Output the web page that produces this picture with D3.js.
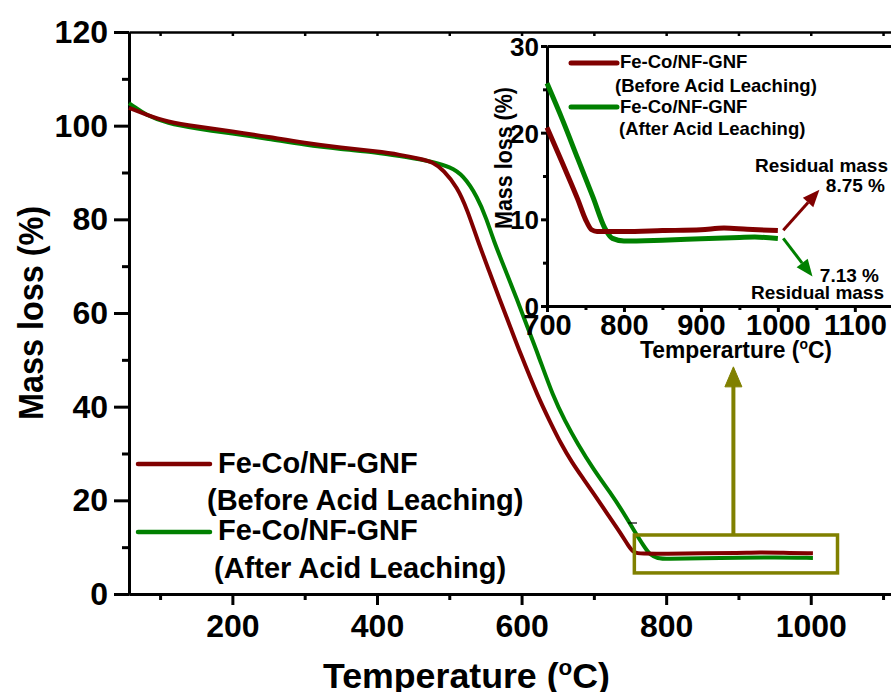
<!DOCTYPE html>
<html>
<head>
<meta charset="utf-8">
<script src="https://cdn.jsdelivr.net/npm/d3@7"></script>
<style>
  html, body { margin: 0; padding: 0; background: #fff; }
  svg { display: block; }
  text { font-family: "Liberation Sans", Arial, sans-serif; font-weight: bold; fill: #000; }
</style>
</head>
<body>
<svg id="chart" width="891" height="692"></svg>
<script>
// ---------- DATA ----------
// Main TGA curves (temperature °C, mass %)
const beforeTemp = [57, 80, 110, 150, 200, 250, 300, 350, 400, 432, 460, 478, 492, 511, 525, 539, 555, 570, 585, 598, 623, 640, 654, 670, 685, 699, 720, 737, 748, 755, 765, 800, 850, 900, 930, 960, 1003];
const beforeMass = [103.8, 102.4, 100.8, 99.8, 98.8, 97.6, 96.3, 95.3, 94.5, 93.8, 92.9, 92.2, 90.5, 86.9, 82.0, 75.6, 69.0, 62.8, 56.8, 51.5, 42.0, 36.6, 32.2, 28.0, 24.7, 21.6, 16.8, 13.0, 10.2, 8.8, 8.6, 8.6, 8.7, 8.75, 8.9, 8.8, 8.7];
const afterTemp = [57, 65, 80, 110, 150, 200, 250, 300, 350, 400, 432, 460, 478, 501, 519, 539, 552, 561, 578, 594, 608, 622, 644, 660, 677, 700, 723, 740, 755, 770, 778, 788, 800, 850, 900, 950, 1003];
const afterMass = [104.8, 104.0, 102.3, 100.5, 99.4, 98.3, 97.2, 95.9, 95.0, 94.3, 93.5, 92.8, 92.2, 91.2, 89.5, 84.8, 79.9, 75.6, 69.0, 62.8, 57.0, 51.5, 42.0, 37.0, 32.2, 26.5, 21.6, 17.6, 13.7, 10.0, 8.3, 7.6, 7.5, 7.6, 7.75, 7.85, 7.7];

// Inset (zoom 700-1000 °C)
const insetBeforeTemp = [700, 720, 740, 750, 758, 765, 800, 850, 900, 930, 960, 1000];
const insetBeforeMass = [20.6, 16.5, 12.3, 10.0, 8.8, 8.6, 8.6, 8.7, 8.8, 9.0, 8.85, 8.7];
const insetAfterTemp = [700, 720, 740, 760, 775, 785, 800, 850, 900, 950, 970, 1000];
const insetAfterMass = [25.7, 21.5, 17.0, 12.5, 9.0, 7.8, 7.5, 7.6, 7.75, 7.9, 7.95, 7.8];

// Ticks
const mainXMajor = [200, 400, 600, 800, 1000];
const mainXMinor = [100, 300, 500, 700, 900, 1100];
const mainYMajor = [0, 20, 40, 60, 80, 100, 120];
const mainYMinor = [10, 30, 50, 70, 90, 110];
const insetXMajor = [700, 800, 900, 1000, 1100];
const insetXMinor = [750, 850, 950, 1050];
const insetYMajor = [0, 10, 20, 30];
const insetYMinor = [5, 15, 25];

// Labels
const seriesNames = ["Fe-Co/NF-GNF", "Fe-Co/NF-GNF"];
const seriesSubs = ["(Before Acid Leaching)", "(After Acid Leaching)"];
const residualLabels = ["8.75 %", "7.13 %"];
// Zoom-box region (temperature range, mass range) and arrow tip mass
const zoomBoxT = [756, 1037];
const zoomBoxM = [4.5, 12.6];
const zoomArrowT = 893;
const zoomArrowTipM = 48.5;
// Residual arrows in inset data units: [T0, M0, T1, M1]
const residualArrows = [[1007, 8.75, 1054, 13.4], [1007, 7.8, 1045, 3.4]];

// ---------- STYLE ----------
const RED = "#800000";
const GREEN = "#008000";
const OLIVE = "#808000";
const fmt = d3.format("d");

const svg = d3.select("#chart");
svg.append("rect").attr("width", 891).attr("height", 692).attr("fill", "#fff");

// ---------- MAIN PLOT ----------
const x = d3.scaleLinear().domain([57, 1111]).range([129, 891]);
const y = d3.scaleLinear().domain([0, 120]).range([594, 32]);

function styleAxis(g, w) {
  g.selectAll("path.domain").attr("stroke", "#000").attr("stroke-width", w);
  g.selectAll(".tick line").attr("stroke", "#000").attr("stroke-width", w);
}

// top border with small inward ticks
const gTop = svg.append("g").attr("transform", `translate(0,${y(120)})`)
  .call(d3.axisTop(x).tickValues(mainXMajor.concat(mainXMinor)).tickSizeInner(-4).tickSizeOuter(0).tickFormat(""));
styleAxis(gTop, 2.5);

// minor ticks
const gXMinor = svg.append("g").attr("transform", `translate(0,${y(0)})`)
  .call(d3.axisBottom(x).tickValues(mainXMinor).tickSizeInner(6).tickSizeOuter(0).tickFormat(""));
styleAxis(gXMinor, 3);
const gYMinor = svg.append("g").attr("transform", `translate(${x(57)},0)`)
  .call(d3.axisLeft(y).tickValues(mainYMinor).tickSizeInner(7).tickSizeOuter(0).tickFormat(""));
styleAxis(gYMinor, 3);

const gX = svg.append("g").attr("transform", `translate(0,${y(0)})`)
  .call(d3.axisBottom(x).tickValues(mainXMajor).tickFormat(fmt).tickSizeInner(11).tickSizeOuter(0).tickPadding(10));
styleAxis(gX, 3);
gX.selectAll(".tick text").attr("font-size", 32).attr("font-family", "Liberation Sans, Arial")
  .attr("font-weight", "bold").attr("y", 43).attr("dy", 0).attr("fill", "#000");

const gY = svg.append("g").attr("transform", `translate(${x(57)},0)`)
  .call(d3.axisLeft(y).tickValues(mainYMajor).tickFormat(fmt).tickSizeInner(15).tickSizeOuter(0).tickPadding(6));
styleAxis(gY, 3);
gY.selectAll(".tick text").attr("font-size", 32).attr("font-family", "Liberation Sans, Arial")
  .attr("font-weight", "bold").attr("dy", "0.33em").attr("fill", "#000");

// axis titles
const xt = svg.append("text").attr("x", 323).attr("y", 688).attr("font-size", 35)
  .attr("textLength", 287).attr("lengthAdjust", "spacingAndGlyphs");
xt.append("tspan").text("Temperature (");
xt.append("tspan").attr("font-size", 22).attr("dy", -13).text("o");
xt.append("tspan").attr("dy", 13).text("C)");

svg.append("text").attr("transform", `translate(43,${(y(0) + y(120)) / 2}) rotate(-90)`)
  .attr("text-anchor", "middle").attr("font-size", 35)
  .attr("textLength", 214).attr("lengthAdjust", "spacingAndGlyphs")
  .text("Mass loss (%)");

// curves
const mainLine = d3.line().x(d => x(d[0])).y(d => y(d[1])).curve(d3.curveBasis);
svg.append("path").datum(afterTemp.map((t, i) => [t, afterMass[i]]))
  .attr("d", mainLine).attr("fill", "none").attr("stroke", GREEN).attr("stroke-width", 4).attr("stroke-linejoin", "round");
svg.append("path").datum(beforeTemp.map((t, i) => [t, beforeMass[i]]))
  .attr("d", mainLine).attr("fill", "none").attr("stroke", RED).attr("stroke-width", 4).attr("stroke-linejoin", "round");

// stray dash
svg.append("line").attr("x1", 628).attr("x2", 637).attr("y1", 523).attr("y2", 523)
  .attr("stroke", "#000").attr("stroke-width", 1.2);

// zoom box + arrow
svg.append("rect").attr("x", x(zoomBoxT[0])).attr("y", y(zoomBoxM[1]))
  .attr("width", x(zoomBoxT[1]) - x(zoomBoxT[0])).attr("height", y(zoomBoxM[0]) - y(zoomBoxM[1]))
  .attr("fill", "none").attr("stroke", OLIVE).attr("stroke-width", 3.5);
const ax = x(zoomArrowT), atip = y(zoomArrowTipM);
svg.append("line").attr("x1", ax).attr("x2", ax).attr("y1", y(zoomBoxM[1])).attr("y2", atip + 16)
  .attr("stroke", OLIVE).attr("stroke-width", 4);
svg.append("path").attr("d", `M${ax},${atip} L${ax - 8.5},${atip + 20} L${ax + 8.5},${atip + 20} Z`)
  .attr("fill", OLIVE).attr("stroke", OLIVE).attr("stroke-width", 1).attr("stroke-linejoin", "round");

// main legend
const legRows = [
  { color: RED, ly: 464, t1y: 473, t2x: 207, t2y: 510 },
  { color: GREEN, ly: 532, t1y: 540, t2x: 214, t2y: 578 }
];
legRows.forEach((r, i) => {
  svg.append("line").attr("x1", 138).attr("x2", 210).attr("y1", r.ly).attr("y2", r.ly)
    .attr("stroke", r.color).attr("stroke-width", 4.5).attr("stroke-linecap", "round");
  svg.append("text").attr("x", 218).attr("y", r.t1y).attr("font-size", 29).text(seriesNames[i]);
  svg.append("text").attr("x", r.t2x).attr("y", r.t2y).attr("font-size", 29).text(seriesSubs[i]);
});

// ---------- INSET ----------
const xi = d3.scaleLinear().domain([700, 1147]).range([547, 891]);
const yi = d3.scaleLinear().domain([0, 30]).range([306, 46]);

const giTop = svg.append("g").attr("transform", `translate(0,${yi(30)})`)
  .call(d3.axisTop(xi).tickValues([]).tickSizeOuter(0));
styleAxis(giTop, 3);

const giXMinor = svg.append("g").attr("transform", `translate(0,${yi(0)})`)
  .call(d3.axisBottom(xi).tickValues(insetXMinor).tickSizeInner(4).tickSizeOuter(0).tickFormat(""));
styleAxis(giXMinor, 3);
const giYMinor = svg.append("g").attr("transform", `translate(${xi(700)},0)`)
  .call(d3.axisLeft(yi).tickValues(insetYMinor).tickSizeInner(4).tickSizeOuter(0).tickFormat(""));
styleAxis(giYMinor, 3);

const giX = svg.append("g").attr("transform", `translate(0,${yi(0)})`)
  .call(d3.axisBottom(xi).tickValues(insetXMajor).tickFormat(fmt).tickSizeInner(6).tickSizeOuter(0));
styleAxis(giX, 3);
giX.selectAll(".tick text").attr("font-size", 29).attr("font-family", "Liberation Sans, Arial")
  .attr("font-weight", "bold").attr("y", 29).attr("dy", 0).attr("fill", "#000");

const giY = svg.append("g").attr("transform", `translate(${xi(700)},0)`)
  .call(d3.axisLeft(yi).tickValues(insetYMajor).tickFormat(fmt).tickSizeInner(6).tickSizeOuter(0).tickPadding(2));
styleAxis(giY, 3);
giY.selectAll(".tick text").attr("font-size", 26).attr("font-family", "Liberation Sans, Arial")
  .attr("font-weight", "bold").attr("dy", "0.36em").attr("fill", "#000");

// inset axis titles
const xti = svg.append("text").attr("x", 640).attr("y", 358).attr("font-size", 23)
  .attr("textLength", 192).attr("lengthAdjust", "spacingAndGlyphs");
xti.append("tspan").text("Temperarture (");
xti.append("tspan").attr("font-size", 14).attr("dy", -9).text("o");
xti.append("tspan").attr("dy", 9).text("C)");

svg.append("text").attr("transform", `translate(512,158) rotate(-90)`)
  .attr("text-anchor", "middle").attr("font-size", 24)
  .attr("textLength", 142).attr("lengthAdjust", "spacingAndGlyphs")
  .text("Mass loss (%)");

// inset curves
const insetLine = d3.line().x(d => xi(d[0])).y(d => yi(d[1])).curve(d3.curveMonotoneX);
svg.append("path").datum(insetAfterTemp.map((t, i) => [t, insetAfterMass[i]]))
  .attr("d", insetLine).attr("fill", "none").attr("stroke", GREEN).attr("stroke-width", 5).attr("stroke-linejoin", "round");
svg.append("path").datum(insetBeforeTemp.map((t, i) => [t, insetBeforeMass[i]]))
  .attr("d", insetLine).attr("fill", "none").attr("stroke", RED).attr("stroke-width", 5).attr("stroke-linejoin", "round");

// inset legend
const iLeg = [
  { color: RED, ly: 63, t1y: 68, t2x: 615, t2y: 92 },
  { color: GREEN, ly: 107, t1y: 113, t2x: 619, t2y: 135 }
];
iLeg.forEach((r, i) => {
  svg.append("line").attr("x1", 571).attr("x2", 617).attr("y1", r.ly).attr("y2", r.ly)
    .attr("stroke", r.color).attr("stroke-width", 5).attr("stroke-linecap", "round");
  svg.append("text").attr("x", 620).attr("y", r.t1y).attr("font-size", 18.5).text(seriesNames[i]);
  svg.append("text").attr("x", r.t2x).attr("y", r.t2y).attr("font-size", 18.5).text(seriesSubs[i]);
});

// residual arrows
[RED, GREEN].forEach((c, i) => {
  const a = residualArrows[i];
  const x0 = xi(a[0]), y0 = yi(a[1]), x1 = xi(a[2]), y1 = yi(a[3]);
  const ang = Math.atan2(y1 - y0, x1 - x0);
  const L = 17, W = 7;
  const bx = x1 - L * Math.cos(ang), by = y1 - L * Math.sin(ang);
  const px = -Math.sin(ang) * W, py = Math.cos(ang) * W;
  svg.append("line").attr("x1", x0).attr("y1", y0).attr("x2", bx).attr("y2", by)
    .attr("stroke", c).attr("stroke-width", 3);
  svg.append("path").attr("d", `M${x1},${y1} L${bx + px},${by + py} L${bx - px},${by - py} Z`).attr("fill", c);
});

// residual texts
svg.append("text").attr("x", 888).attr("y", 172).attr("text-anchor", "end").attr("font-size", 19).text("Residual mass");
svg.append("text").attr("x", 885).attr("y", 192).attr("text-anchor", "end").attr("font-size", 19).text(residualLabels[0]);
svg.append("text").attr("x", 879).attr("y", 282).attr("text-anchor", "end").attr("font-size", 19).text(residualLabels[1]);
svg.append("text").attr("x", 884).attr("y", 299).attr("text-anchor", "end").attr("font-size", 19).text("Residual mass");
</script>
</body>
</html>
